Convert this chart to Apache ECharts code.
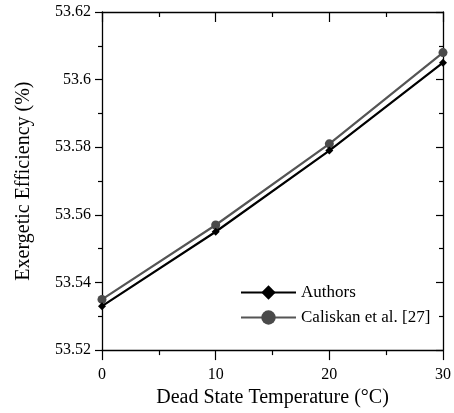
<!DOCTYPE html>
<html>
<head>
<meta charset="utf-8">
<script src="https://cdn.jsdelivr.net/npm/echarts@6/dist/echarts.min.js"></script>
<style>
  html, body { margin: 0; padding: 0; background: #fff; }
  #chart { width: 454px; height: 413px; }
</style>
</head>
<body>
<div id="chart"></div>
<script>
// Dead state temperature (°C)
const temperatures = [0, 10, 20, 30];
// Exergetic efficiency (%)
const authors = [53.533, 53.555, 53.579, 53.605];
const caliskan = [53.535, 53.557, 53.581, 53.608];
const seriesNames = ['Authors', 'Caliskan et al. [27]'];

const FONT = '"Liberation Serif", "Times New Roman", serif';

const pairs = (xs, ys) => xs.map((x, i) => [x, ys[i]]);

const chart = echarts.init(document.getElementById('chart'), null, { renderer: 'canvas' });

const baseX = {
  type: 'value', min: 0, max: 30, interval: 10,
  axisLine: { show: true, onZero: false, lineStyle: { color: '#000', width: 1.3 } },
  splitLine: { show: false },
  minorTick: { show: true, splitNumber: 2, length: 5, lineStyle: { color: '#000', width: 1.2 } },
  axisTick: { show: true, length: 10, lineStyle: { color: '#000', width: 1.2 } }
};
const baseY = {
  type: 'value', min: 53.52, max: 53.62, interval: 0.02,
  axisLine: { show: true, onZero: false, lineStyle: { color: '#000', width: 1.3 } },
  splitLine: { show: false },
  minorTick: { show: true, splitNumber: 2, length: 4, lineStyle: { color: '#000', width: 1.2 } },
  axisTick: { show: true, length: 7, lineStyle: { color: '#000', width: 1.2 } }
};

chart.setOption({
  animation: false,
  backgroundColor: '#fff',
  textStyle: { fontFamily: FONT },
  grid: { left: 102, right: 10, top: 12, bottom: 61, containLabel: false },
  legend: {
    data: seriesNames,
    orient: 'vertical',
    left: 235,
    top: 279,
    itemWidth: 55,
    itemHeight: 18,
    itemGap: 8,
    textStyle: { fontFamily: FONT, fontSize: 17, color: '#000' }
  },
  xAxis: [
    Object.assign({}, baseX, {
      position: 'bottom',
      name: 'Dead State Temperature (°C)',
      nameLocation: 'middle',
      nameGap: 37,
      nameTextStyle: { fontFamily: FONT, fontSize: 20, color: '#000' },
      axisTick: Object.assign({}, baseX.axisTick, { inside: false }),
      axisLabel: { fontFamily: FONT, fontSize: 16, color: '#000', margin: 17 }
    }),
    Object.assign({}, baseX, {
      position: 'top',
      axisTick: Object.assign({}, baseX.axisTick, { inside: true }),
      axisLabel: { show: false }
    })
  ],
  yAxis: [
    Object.assign({}, baseY, {
      position: 'left',
      name: 'Exergetic Efficiency (%)',
      nameLocation: 'middle',
      nameGap: 68,
      nameTextStyle: { fontFamily: FONT, fontSize: 20, color: '#000' },
      axisTick: Object.assign({}, baseY.axisTick, { inside: false }),
      axisLabel: {
        fontFamily: FONT, fontSize: 16, color: '#000', margin: 11,
        formatter: v => String(+v.toFixed(2))
      }
    }),
    Object.assign({}, baseY, {
      position: 'right',
      axisTick: Object.assign({}, baseY.axisTick, { inside: true }),
      axisLabel: { show: false }
    })
  ],
  series: [
    {
      name: seriesNames[0],
      type: 'line',
      data: pairs(temperatures, authors),
      symbol: 'diamond',
      symbolSize: 8,
      itemStyle: { color: '#000' },
      lineStyle: { color: '#000', width: 2.2 },
      z: 3
    },
    {
      name: seriesNames[1],
      type: 'line',
      data: pairs(temperatures, caliskan),
      symbol: 'circle',
      symbolSize: 9,
      itemStyle: { color: '#4a4a4a' },
      lineStyle: { color: '#555', width: 2.2 },
      z: 2
    }
  ]
});
</script>
</body>
</html>
